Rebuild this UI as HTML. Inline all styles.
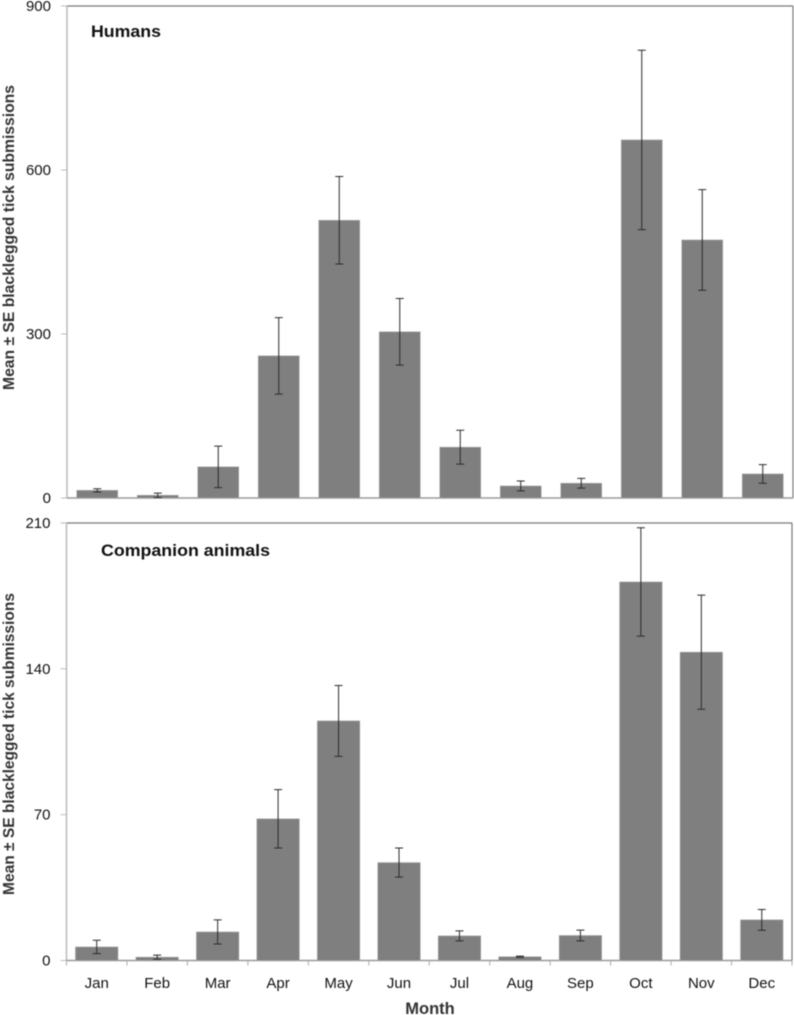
<!DOCTYPE html>
<html lang="en">
<head>
<meta charset="utf-8">
<title>Mean blacklegged tick submissions by month</title>
<style>
html,body{margin:0;padding:0;background:#fff;}
svg{display:block;font-family:"Liberation Sans",sans-serif;}
.soft{filter:blur(0.45px);}
</style>
</head>
<body>
<svg id="chart" width="794" height="1015" viewBox="0 0 794 1015" xmlns="http://www.w3.org/2000/svg"></svg>
<script>
const months = ['Jan','Feb','Mar','Apr','May','Jun','Jul','Aug','Sep','Oct','Nov','Dec'];
const humanMeans = [14,5,57,260,508,304,93,22,27,655,472,44];
const humanErrors = [3,4,38,70,80,61,31,9,9,164,92,17];
const humanTicks = [0,300,600,900];
const animalMeans = [6.5,1.6,13.7,68,115,47,11.8,1.8,12,181.7,148,19.5];
const animalErrors = [3.2,1,5.8,14,17,7,2.4,0.3,2.6,26,27.4,5];
const animalTicks = [0,70,140,210];

const svg = document.getElementById('chart');
const NS = 'http://www.w3.org/2000/svg';
function make(tag, attrs, parent, text) {
  const el = document.createElementNS(NS, tag);
  for (const k in attrs) el.setAttribute(k, attrs[k]);
  if (text !== undefined) el.textContent = text;
  parent.appendChild(el);
  return el;
}
function drawPanel(cfg) {
  const g = make('g', {class:'soft'}, svg);
  
  
  const band = (cfg.right - cfg.left) / months.length;
  const xCenter = i => cfg.left + band * (i + 0.5);
  const yMax = cfg.ticks[cfg.ticks.length - 1];
  const yPos = v => cfg.bottom - (v / yMax) * (cfg.bottom - cfg.top);

  const frameTop = make('line', {x1:cfg.left,x2:cfg.right,y1:cfg.top,y2:cfg.top,stroke:'#777','stroke-width':1.2}, g);
  
  
  const frameRight = make('line', {x1:cfg.right,x2:cfg.right,y1:cfg.top,y2:cfg.bottom,stroke:'#777','stroke-width':1.2}, g);
  
  
  const yAxis = make('line', {x1:cfg.left,x2:cfg.left,y1:cfg.top,y2:cfg.bottom,stroke:'#bdbdbd','stroke-width':1.6}, g);
  
  
  const xAxis = make('line', {x1:cfg.left,x2:cfg.right,y1:cfg.bottom,y2:cfg.bottom,stroke:'#999','stroke-width':1.4}, g);
  
  

  cfg.ticks.forEach(t => {
    const y = yPos(t);
    const tick = make('line', {x1:cfg.left - 6,x2:cfg.left,y1:y,y2:y,stroke:'#bdbdbd','stroke-width':1}, g);
    
    
    const label = make('text', {x:cfg.left - 16,y:y + 5,'text-anchor':'end','font-size':15,fill:'#111'}, g, String(t));
    
    
  });

  cfg.means.forEach((v, i) => {
    const cx = xCenter(i);
    const bar = make('rect', {x:cx - cfg.barWidth / 2,y:yPos(v),width:cfg.barWidth,height:cfg.bottom - yPos(v),fill:'#7f7f7f',stroke:'#a8a8a8','stroke-width':0.6}, g);
    
    
  });
  cfg.means.forEach((v, i) => {
    const cx = xCenter(i), hi = yPos(v + cfg.errors[i]), lo = yPos(v - cfg.errors[i]);
    const err = make('path', {d:`M${cx - 4} ${hi}H${cx + 4}M${cx} ${hi}V${lo}M${cx - 4} ${lo}H${cx + 4}`,fill:'none',stroke:'#2b2b2b','stroke-width':1}, g);
    
    
  });

  const title = make('text', {x:cfg.titleX,y:cfg.titleY,'font-size':17,'font-weight':'bold',fill:'#111',textLength:cfg.titleLength,lengthAdjust:'spacingAndGlyphs'}, g, cfg.title);
  
  

  const yTitle = make('text', {transform:`translate(14 ${cfg.yTitleBottom}) rotate(-90)`,'font-size':15.5,'font-weight':'bold',fill:'#333',textLength:cfg.yTitleLength,lengthAdjust:'spacingAndGlyphs'}, g, 'Mean ± SE blacklegged tick submissions');
  
  

  if (cfg.showMonths) {
    for (let i = 0; i <= months.length; i++) {
      const x = cfg.left + band * i;
      const tick = make('line', {x1:x,x2:x,y1:cfg.bottom,y2:cfg.bottom + 5,stroke:'#aaa','stroke-width':1}, g);
      
      
    }
    months.forEach((m, i) => {
      const label = make('text', {x:xCenter(i),y:988,'text-anchor':'middle','font-size':15,fill:'#111'}, g, m);
      
      
    });
    const xTitle = make('text', {x:430,y:1014,'text-anchor':'middle','font-size':16.5,'font-weight':'bold',fill:'#333'}, g, 'Month');
    
    
  }
}
drawPanel({name:'humans',title:'Humans',means:humanMeans,errors:humanErrors,ticks:humanTicks,left:67,right:793,top:6,bottom:498,barWidth:41,titleX:91,titleY:37,titleLength:70,yTitleBottom:390,yTitleLength:305,showMonths:false});
drawPanel({name:'companion-animals',title:'Companion animals',means:animalMeans,errors:animalErrors,ticks:animalTicks,left:66.5,right:792,top:523,bottom:960.5,barWidth:42.5,titleX:101,titleY:556,titleLength:169,yTitleBottom:895,yTitleLength:302,showMonths:true});
</script>
</body>
</html>
